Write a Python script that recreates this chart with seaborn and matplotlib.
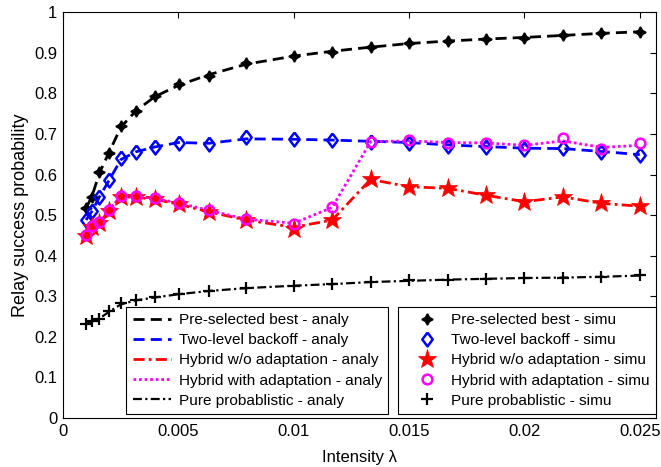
import matplotlib
matplotlib.use("Agg")
import matplotlib.pyplot as plt
import seaborn as sns
from matplotlib.lines import Line2D

# ---- data ----
intensity = [0.001, 0.00126, 0.00158, 0.002, 0.00251, 0.00316, 0.00398, 0.00501,
             0.00631, 0.00794, 0.01, 0.01167, 0.01333, 0.015, 0.01667, 0.01833,
             0.02, 0.02167, 0.02333, 0.025]

preselected_simu = [0.517, 0.545, 0.606, 0.652, 0.719, 0.757, 0.793, 0.824, 0.842, 0.874,
                    0.892, 0.902, 0.915, 0.925, 0.929, 0.933, 0.937, 0.943, 0.948, 0.952]
preselected_analy = [0.517, 0.547, 0.604, 0.655, 0.717, 0.757, 0.792, 0.820, 0.846, 0.872,
                     0.892, 0.904, 0.914, 0.923, 0.929, 0.934, 0.938, 0.943, 0.948, 0.952]

twolevel_simu = [0.488, 0.510, 0.545, 0.586, 0.640, 0.656, 0.668, 0.679, 0.675, 0.693,
                 0.687, 0.685, 0.681, 0.679, 0.671, 0.668, 0.663, 0.666, 0.656, 0.648]
twolevel_analy = [0.488, 0.510, 0.545, 0.586, 0.637, 0.656, 0.668, 0.679, 0.677, 0.688,
                  0.687, 0.685, 0.682, 0.679, 0.673, 0.669, 0.665, 0.664, 0.657, 0.649]

hybrid_wo_simu = [0.448, 0.470, 0.481, 0.511, 0.545, 0.544, 0.539, 0.527, 0.508, 0.488,
                  0.467, 0.488, 0.588, 0.570, 0.566, 0.549, 0.533, 0.545, 0.529, 0.522]
hybrid_wo_analy = [0.448, 0.470, 0.481, 0.511, 0.545, 0.544, 0.539, 0.527, 0.508, 0.488,
                   0.470, 0.488, 0.588, 0.570, 0.566, 0.549, 0.533, 0.545, 0.529, 0.522]

hybrid_with_simu = [0.450, 0.472, 0.483, 0.513, 0.547, 0.546, 0.541, 0.530, 0.512, 0.490,
                    0.478, 0.519, 0.681, 0.685, 0.678, 0.678, 0.672, 0.690, 0.664, 0.677]
hybrid_with_analy = [0.450, 0.472, 0.483, 0.513, 0.547, 0.546, 0.541, 0.530, 0.512, 0.490,
                     0.480, 0.519, 0.681, 0.683, 0.679, 0.678, 0.672, 0.683, 0.667, 0.672]

pure_simu = [0.232, 0.238, 0.243, 0.264, 0.283, 0.291, 0.297, 0.305, 0.313, 0.321,
             0.326, 0.330, 0.336, 0.339, 0.341, 0.343, 0.345, 0.346, 0.347, 0.352]
pure_analy = [0.232, 0.238, 0.245, 0.262, 0.280, 0.290, 0.297, 0.305, 0.313, 0.320,
              0.326, 0.330, 0.335, 0.338, 0.341, 0.343, 0.345, 0.346, 0.348, 0.351]

analy_labels = ["Pre-selected best - analy", "Two-level backoff - analy",
                "Hybrid w/o adaptation - analy", "Hybrid with adaptation - analy",
                "Pure probablistic - analy"]
simu_labels = ["Pre-selected best - simu", "Two-level backoff - simu",
               "Hybrid w/o adaptation - simu", "Hybrid with adaptation - simu",
               "Pure probablistic - simu"]

x_ticks = [0, 0.005, 0.01, 0.015, 0.02, 0.025]
x_ticklabels = ["0", "0.005", "0.01", "0.015", "0.02", "0.025"]
y_ticks = [0, 0.1, 0.2, 0.3, 0.4, 0.5, 0.6, 0.7, 0.8, 0.9, 1.0]
y_ticklabels = ["0", "0.1", "0.2", "0.3", "0.4", "0.5", "0.6", "0.7", "0.8", "0.9", "1"]

# ---- style ----
sns.set_theme(style="white")
plt.rcParams['font.family'] = ['Liberation Sans', 'DejaVu Sans']
plt.rcParams.update({
    "xtick.direction": "in", "ytick.direction": "in",
    "xtick.top": True, "ytick.right": True,
    "xtick.major.size": 4, "ytick.major.size": 4,
    "xtick.major.width": 0.8, "ytick.major.width": 0.8,
    "xtick.color": "black", "ytick.color": "black",
    "axes.edgecolor": "black", "axes.linewidth": 0.8,
    "text.color": "black", "axes.labelcolor": "black",
})

fig = plt.figure(figsize=(6.61, 4.67), dpi=100)
ax = fig.add_axes([0.0953, 0.105, 0.8971, 0.8687])

analy = [
    (preselected_analy, dict(color="black", linestyle=(0, (4, 2.2)), lw=2.0)),
    (twolevel_analy, dict(color="#0000ff", linestyle=(0, (4, 2.2)), lw=2.0)),
    (hybrid_wo_analy, dict(color="#ff0000", linestyle=(0, (4, 1.5, 1, 1.5)), lw=2.0)),
    (hybrid_with_analy, dict(color="#ff00ff", linestyle=(0, (1, 1)), lw=2.0)),
    (pure_analy, dict(color="black", linestyle=(0, (4, 1.5, 1, 1.5)), lw=1.6)),
]
for vals, kw in analy:
    sns.lineplot(x=intensity, y=vals, ax=ax, sort=False, legend=False, **kw)

star4 = (4, 1, 0)
diamond = [(0, 1), (0.75, 0), (0, -1), (-0.75, 0), (0, 1)]
simu = [
    (preselected_simu, dict(marker=star4, markersize=8, color="black",
                            markerfacecolor="black", markeredgecolor="black", markeredgewidth=1.2)),
    (twolevel_simu, dict(marker=diamond, markersize=10, color="#0000ff",
                         markerfacecolor="none", markeredgecolor="#0000ff", markeredgewidth=1.8)),
    (hybrid_wo_simu, dict(marker="*", markersize=14, color="#ff0000",
                          markerfacecolor="#ff0000", markeredgecolor="#ff0000", markeredgewidth=0.5)),
    (hybrid_with_simu, dict(marker="o", markersize=7, color="#ff00ff",
                            markerfacecolor="none", markeredgecolor="#ff00ff", markeredgewidth=1.8)),
    (pure_simu, dict(marker="+", markersize=8, color="black",
                     markerfacecolor="black", markeredgecolor="black", markeredgewidth=1.6)),
]
for vals, kw in simu:
    sns.lineplot(x=intensity, y=vals, ax=ax, sort=False, legend=False,
                 linestyle="none", **kw)

ax.set_xlim(0, 0.0257)
ax.set_ylim(0, 1)
ax.set_xticks(x_ticks)
ax.set_xticklabels(x_ticklabels, fontsize=12)
ax.set_yticks(y_ticks)
ax.set_yticklabels(y_ticklabels, fontsize=12)
ax.tick_params(axis="both", which="major", pad=4)
ax.set_xlabel("Intensity \u03bb", fontsize=12, labelpad=8)
ax.set_ylabel("Relay success probability", fontsize=13, labelpad=4)
for s in ax.spines.values():
    s.set_visible(True)
    s.set_color("black")
    s.set_linewidth(0.8)

left_handles = [Line2D([], [], **kw) for _, kw in analy]
right_handles = [Line2D([], [], linestyle="none", **kw) for _, kw in simu]

leg_kw = dict(fontsize=11.1, frameon=True, fancybox=False, shadow=False,
              borderaxespad=0, labelspacing=0.4, borderpad=0.4,
              framealpha=1, edgecolor="black")
leg1 = ax.legend(left_handles, analy_labels, loc="lower left",
                 bbox_to_anchor=(0.107, 0.01), handlelength=2.5,
                 handletextpad=0.5, **leg_kw)
leg1.get_frame().set_linewidth(0.8)
ax.add_artist(leg1)
leg2 = ax.legend(right_handles, simu_labels, loc="lower right",
                 bbox_to_anchor=(1.0, 0.01), handlelength=2.9,
                 handletextpad=0.15, **leg_kw)
leg2.get_frame().set_linewidth(0.8)

fig.savefig("out.png", dpi=100)
